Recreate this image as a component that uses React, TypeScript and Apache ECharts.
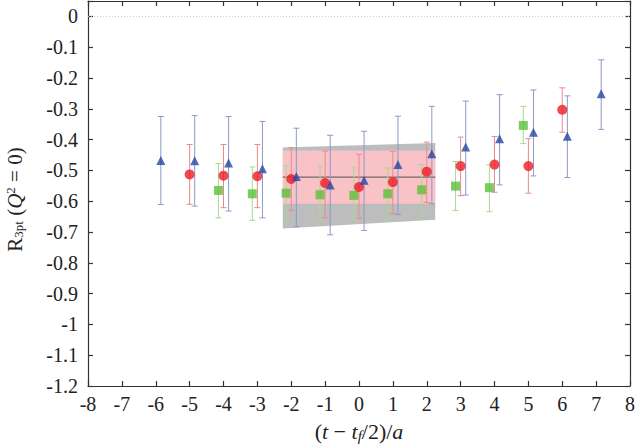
import React, { useEffect, useRef } from "react";
import * as echarts from "echarts";

// ---- data ----
const xTicks = { min: -8, max: 8, interval: 1 };
const yTicks = { min: -1.2, max: 0.05, interval: 0.1 };

const blueT = [-6, -5, -4, -3, -2, -1, 0, 1, 2, 3, 4, 5, 6, 7];
const blueY = [-0.468, -0.469, -0.476, -0.495, -0.52, -0.547, -0.532, -0.481, -0.446, -0.424, -0.397, -0.376, -0.389, -0.251];
const blueHi = [-0.325, -0.322, -0.325, -0.341, -0.363, -0.386, -0.373, -0.324, -0.292, -0.275, -0.254, -0.239, -0.258, -0.141];
const blueLo = [-0.611, -0.616, -0.632, -0.654, -0.683, -0.709, -0.695, -0.643, -0.608, -0.58, -0.547, -0.518, -0.523, -0.367];

const redT = [-5, -4, -3, -2, -1, 0, 1, 2, 3, 4, 5, 6];
const redY = [-0.513, -0.517, -0.519, -0.528, -0.541, -0.554, -0.538, -0.504, -0.486, -0.481, -0.486, -0.303];
const redHi = [-0.416, -0.416, -0.416, -0.426, -0.437, -0.448, -0.438, -0.408, -0.392, -0.39, -0.397, -0.232];
const redLo = [-0.61, -0.621, -0.621, -0.63, -0.654, -0.655, -0.641, -0.604, -0.582, -0.571, -0.574, -0.376];

const greenT = [-4, -3, -2, -1, 0, 1, 2, 3, 4, 5];
const greenY = [-0.565, -0.576, -0.574, -0.579, -0.581, -0.576, -0.563, -0.551, -0.556, -0.354];
const greenHi = [-0.478, -0.489, -0.486, -0.487, -0.492, -0.492, -0.481, -0.471, -0.482, -0.292];
const greenLo = [-0.654, -0.662, -0.66, -0.662, -0.66, -0.659, -0.648, -0.63, -0.634, -0.413];

const blueShift = 0.15;
const greenShift = -0.15;

const bandX = [-2.25, 2.25];
const grayUpper = [-0.426, -0.411];
const grayLower = [-0.689, -0.66];
const pinkUpper = [-0.435, -0.435];
const pinkLower = [-0.608, -0.608];
const fitLine = [-0.522, -0.522];

const FONT = "'Liberation Serif', 'DejaVu Serif', serif";

function App() {
  const ref = useRef<HTMLDivElement>(null);
  useEffect(() => {
    if (!ref.current) return;
    const chart = echarts.init(ref.current, null, { renderer: "svg" });

    const errData = (t: number[], shift: number, y: number[], lo: number[], hi: number[]) =>
      t.map((v, i) => [v + shift, y[i], lo[i], hi[i]]);

    const errSeries = (data: number[][], color: string) => ({
      type: "custom",
      z: 3,
      data,
      encode: { x: 0, y: 1 },
      renderItem: (params: any, api: any) => {
        const x = api.value(0);
        const p1 = api.coord([x, api.value(3)]);
        const p2 = api.coord([x, api.value(2)]);
        const w = 3;
        const st = { stroke: color, lineWidth: 1 };
        return {
          type: "group",
          children: [
            { type: "line", shape: { x1: p1[0], y1: p1[1], x2: p2[0], y2: p2[1] }, style: st },
            { type: "line", shape: { x1: p1[0] - w, y1: p1[1], x2: p1[0] + w, y2: p1[1] }, style: st },
            { type: "line", shape: { x1: p2[0] - w, y1: p2[1], x2: p2[0] + w, y2: p2[1] }, style: st },
          ],
        };
      },
    });

    const bandSeries = (upper: number[], lower: number[], color: string, z: number) => ({
      type: "custom",
      z,
      data: [[bandX[0], upper[0]]],
      renderItem: (params: any, api: any) => {
        const pts = [
          api.coord([bandX[0], upper[0]]),
          api.coord([bandX[1], upper[1]]),
          api.coord([bandX[1], lower[1]]),
          api.coord([bandX[0], lower[0]]),
        ];
        return { type: "polygon", shape: { points: pts }, style: { fill: color } };
      },
    });

    const fmtY = (v: number) => {
      if (Math.abs(v - yTicks.max) < 1e-6) return "";
      const n = Number(v.toFixed(2));
      return String(n === 0 ? 0 : n);
    };

    const axisLabelStyle = { fontFamily: FONT, fontSize: 20, color: "#222" };
    const lineStyle = { color: "#333", width: 1.2 };

    const option: any = {
      animation: false,
      textStyle: { fontFamily: FONT },
      grid: { left: 88, right: 10, top: 1, bottom: 59, outerBoundsMode: "none", containLabel: false },
      xAxis: [
        {
          type: "value",
          min: xTicks.min,
          max: xTicks.max,
          interval: xTicks.interval,
          axisLine: { show: true, onZero: false, lineStyle },
          axisTick: { show: true, inside: true, length: 5, lineStyle },
          axisLabel: { ...axisLabelStyle, margin: 8 },
          splitLine: { show: false },
          name: "{m|(}{i|t}{m| − }{i|t}{f|f}{m|/2)/}{i|a}",
          nameLocation: "middle",
          nameGap: 33,
          nameTextStyle: {
            rich: {
              m: { fontFamily: FONT, fontSize: 22, lineHeight: 24, color: "#222" },
              i: { fontFamily: FONT, fontSize: 22, lineHeight: 24, fontStyle: "italic", color: "#222" },
              f: { fontFamily: FONT, fontSize: 15, lineHeight: 14, fontStyle: "italic", verticalAlign: "bottom", color: "#222" },
            },
          },
        },
        {
          type: "value",
          position: "top",
          min: xTicks.min,
          max: xTicks.max,
          interval: xTicks.interval,
          axisLine: { show: true, onZero: false, lineStyle },
          axisTick: { show: true, inside: true, length: 5, lineStyle },
          axisLabel: { show: false },
          splitLine: { show: false },
        },
      ],
      yAxis: [
        {
          type: "value",
          min: yTicks.min,
          max: yTicks.max,
          interval: yTicks.interval,
          axisLine: { show: true, onZero: false, lineStyle },
          axisTick: { show: true, inside: true, length: 5, lineStyle },
          axisLabel: { ...axisLabelStyle, margin: 10, formatter: fmtY },
          splitLine: { show: false },
          name: "{m|R}{s|3pt}{m| (}{i|Q}{p|2}{m| = 0)}",
          nameLocation: "middle",
          nameGap: 63,
          nameTextStyle: {
            padding: [0, 12, 0, 0],
            rich: {
              m: { fontFamily: FONT, fontSize: 21, lineHeight: 21, color: "#222" },
              i: { fontFamily: FONT, fontSize: 21, lineHeight: 21, fontStyle: "italic", color: "#222" },
              s: { fontFamily: FONT, fontSize: 13, lineHeight: 11, verticalAlign: "bottom", color: "#222" },
              p: { fontFamily: FONT, fontSize: 13, lineHeight: 10, verticalAlign: "top", color: "#222" },
            },
          },
        },
        {
          type: "value",
          position: "right",
          min: yTicks.min,
          max: yTicks.max,
          interval: yTicks.interval,
          axisLine: { show: true, onZero: false, lineStyle },
          axisTick: { show: true, inside: true, length: 5, lineStyle },
          axisLabel: { show: false },
          splitLine: { show: false },
        },
      ],
      series: [
        {
          type: "line",
          z: 1,
          data: [[xTicks.min, 0], [xTicks.max, 0]],
          symbol: "none",
          lineStyle: { color: "#c8c8c8", width: 1, type: [1, 2] },
          silent: true,
        },
        bandSeries(grayUpper, grayLower, "#bdbdbd", 1),
        bandSeries(pinkUpper, pinkLower, "#f8c2c6", 1),
        {
          type: "line",
          z: 2,
          data: [[bandX[0], fitLine[0]], [bandX[1], fitLine[1]]],
          symbol: "none",
          lineStyle: { color: "#7a6464", width: 1.2 },
        },
        errSeries(errData(greenT, greenShift, greenY, greenLo, greenHi), "#a9d88f"),
        {
          type: "scatter",
          z: 4,
          symbol: "rect",
          symbolSize: 9,
          itemStyle: { color: "#5cbf3a" },
          data: greenT.map((t, i) => [t + greenShift, greenY[i]]),
        },
        errSeries(errData(redT, 0, redY, redLo, redHi), "#e98a8e"),
        {
          type: "scatter",
          z: 4,
          symbol: "circle",
          symbolSize: 10,
          itemStyle: { color: "#ee1c24" },
          data: redT.map((t, i) => [t, redY[i]]),
        },
        errSeries(errData(blueT, blueShift, blueY, blueLo, blueHi), "#8a9acb"),
        {
          type: "scatter",
          z: 4,
          symbol: "triangle",
          symbolSize: 9,
          itemStyle: { color: "#2546a3" },
          data: blueT.map((t, i) => [t + blueShift, blueY[i]]),
        },
      ],
    };
    chart.setOption(option);
    return () => chart.dispose();
  }, []);
  return <div ref={ref} style={{ width: 640, height: 445, position: "absolute", left: 0, top: 0 }} />;
}

export default App;
